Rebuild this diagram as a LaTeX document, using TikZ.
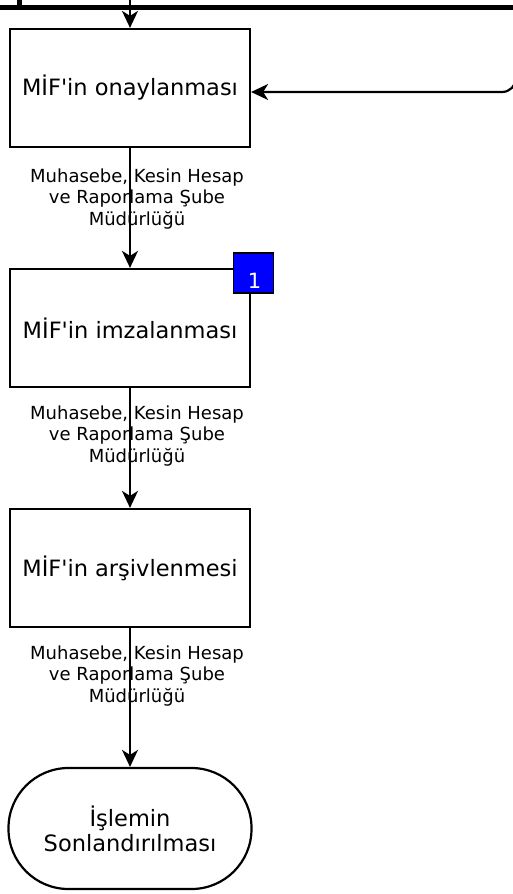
\documentclass[tikz,border=0pt]{standalone}
\usepackage{fontspec}
\setmainfont{DejaVu Sans}[Ligatures=TeXOff]
\usetikzlibrary{arrows.meta}
\begin{document}
\begin{tikzpicture}[x=1pt,y=-1pt,
  procbox/.style={draw=black,line width=2.2pt,minimum width=240pt,minimum height=118pt,inner sep=0pt,font=\fontsize{22.5}{26}\selectfont,align=center},
  endbox/.style={draw=black,line width=2.2pt,minimum width=243pt,minimum height=121pt,rounded corners=60pt,inner sep=0pt,font=\fontsize{22.5}{25}\selectfont,align=center},
  lbl/.style={font=\fontsize{18}{21.5}\selectfont,align=center,inner sep=0pt},
  conn/.style={draw=black,line width=2.2pt,-{Stealth[length=17pt,width=16pt,inset=5pt]}},
  badge/.style={draw=black,line width=1.8pt,fill=blue,minimum width=40pt,minimum height=40pt,inner sep=0pt}
]
\useasboundingbox (0,0) rectangle (513,894);
% top boundary
\draw[line width=5pt] (0,7) -- (513,7);
\draw[line width=5pt] (19.5,0) -- (19.5,8);
% nodes
\node[procbox] (b1) at (130,88) {MİF'in onaylanması};
\node[procbox] (b2) at (130,328) {MİF'in imzalanması};
\node[procbox] (b3) at (130,568) {MİF'in arşivlenmesi};
\node[endbox] (e) at (130,828.5) {İşlemin\\Sonlandırılması};
\coordinate (topin) at (130,0);
\coordinate (retA) at (516,40);
\coordinate (retB) at (516,92);
% connectors
\draw[conn] (topin) -- (b1.north);
\draw[conn] (b1.south) -- (b2.north);
\draw[conn] (b2.south) -- (b3.north);
\draw[conn] (b3.south) -- (e.north);
\draw[conn,rounded corners=14pt] (retA) -- (retB) -- (b1.east |- retB);
% labels
\node[lbl] (l1) at (137,199) {Muhasebe, Kesin Hesap\\ve Raporlama Şube\\Müdürlüğü};
\node[lbl] (l2) at (137,436) {Muhasebe, Kesin Hesap\\ve Raporlama Şube\\Müdürlüğü};
\node[lbl] (l3) at (137,676) {Muhasebe, Kesin Hesap\\ve Raporlama Şube\\Müdürlüğü};
% badge
\node[badge] (bd) at (253.5,273) {};
\node[text=white,font=\fontsize{21}{24}\selectfont,inner sep=0pt] (bdt) at (254.5,281) {1};
\end{tikzpicture}
\end{document}
